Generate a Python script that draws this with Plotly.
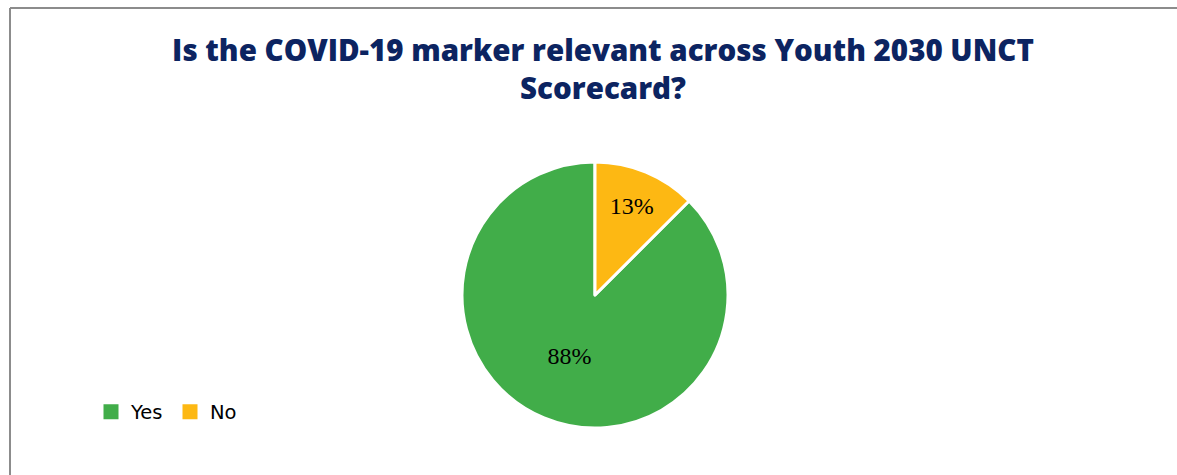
import plotly.graph_objects as go

labels = ["Yes", "No"]
values = [87.5, 12.5]
text_labels = ["88%", "13%"]
colors = ["#41AD49", "#FDB813"]

W, H = 1177, 475

fig = go.Figure()
fig.add_trace(go.Pie(
    labels=labels,
    values=values,
    text=text_labels,
    textinfo="text",
    textposition="inside",
    insidetextorientation="horizontal",
    sort=False,
    direction="clockwise",
    rotation=45,
    marker=dict(colors=colors, line=dict(color="white", width=3)),
    textfont=dict(family="Liberation Serif", size=24, color="black"),
    domain=dict(x=[(595 - 133) / W, (595 + 133) / W], y=[(H - 428) / H, (H - 162) / H]),
    hoverinfo="label+percent",
    showlegend=False,
))

# legend entries with square swatches
for lab, col in zip(labels, colors):
    fig.add_trace(go.Scatter(
        x=[None], y=[None], mode="markers", name=lab,
        marker=dict(symbol="square", size=15, color=col),
        showlegend=True, hoverinfo="skip",
    ))

fig.update_layout(
    width=W, height=H,
    margin=dict(l=0, r=0, t=0, b=0),
    paper_bgcolor="white",
    plot_bgcolor="white",
    xaxis=dict(visible=False),
    yaxis=dict(visible=False),
    title=dict(
        text="Is the COVID-19 marker relevant across Youth 2030 UNCT<br>Scorecard?",
        x=603 / W, xanchor="center",
        y=1 - 61 / H, yanchor="top",
        font=dict(family="Open Sans", size=29.5, color="#0C2461", weight=800),
    ),
    showlegend=True,
    legend=dict(
        orientation="h",
        x=91 / W, xanchor="left",
        y=(H - 412) / H, yanchor="middle",
        font=dict(family="DejaVu Sans", size=19.5, color="black"),
        entrywidth=34, entrywidthmode="pixels",
        bgcolor="rgba(0,0,0,0)",
    ),
    shapes=[
        dict(type="line", xref="paper", yref="paper", x0=10 / W, x1=1, y0=1 - 8 / H, y1=1 - 8 / H,
             line=dict(color="#8c8c8c", width=2)),
        dict(type="line", xref="paper", yref="paper", x0=10 / W, x1=10 / W, y0=0, y1=1 - 8 / H,
             line=dict(color="#8c8c8c", width=2)),
    ],
)

fig.write_html("out.html")
